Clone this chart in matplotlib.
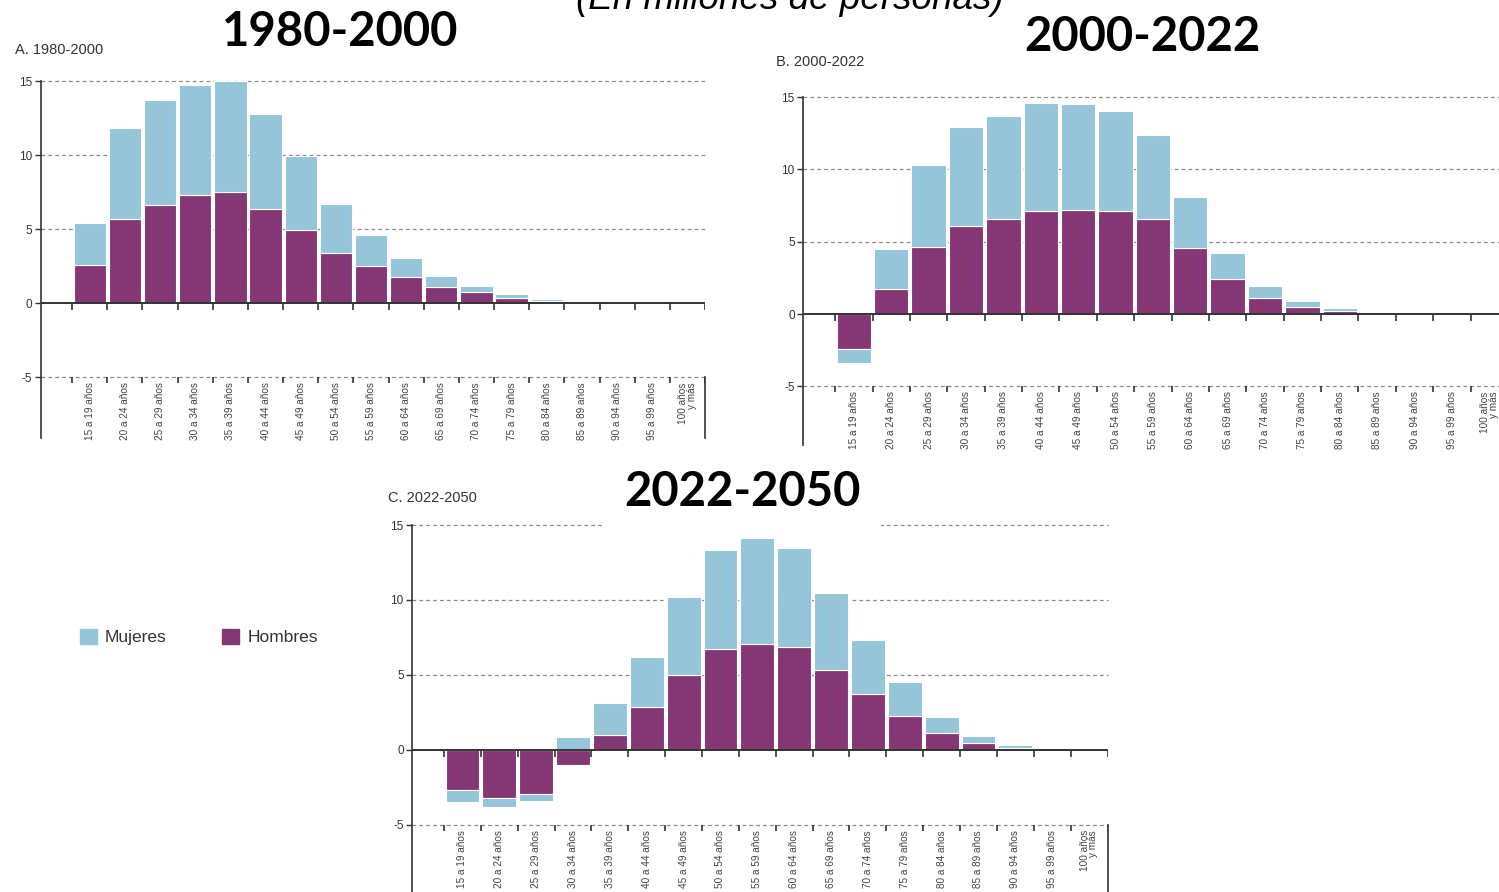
import matplotlib
matplotlib.use('Agg')
import matplotlib.pyplot as plt
from matplotlib.patches import Patch
import numpy as np

W, H = 1499, 892
MORADO = '#853775'
CELESTE = '#96c4d8'
GRIS = '#333333'
NARROW = ['Liberation Sans Narrow', 'Liberation Sans', 'DejaVu Sans']
ARIAL = ['Liberation Sans', 'DejaVu Sans']
plt.rcParams['axes.unicode_minus'] = False

edades = ['15 a 19 años', '20 a 24 años', '25 a 29 años', '30 a 34 años', '35 a 39 años',
          '40 a 44 años', '45 a 49 años', '50 a 54 años', '55 a 59 años', '60 a 64 años',
          '65 a 69 años', '70 a 74 años', '75 a 79 años', '80 a 84 años', '85 a 89 años',
          '90 a 94 años', '95 a 99 años', '100 años\ny más']

# variación de la población por sexo (millones de personas)
hombres_a = [2.6, 5.7, 6.65, 7.3, 7.5, 6.35, 4.95, 3.4, 2.5, 1.8, 1.1, 0.75, 0.35, 0.15, 0.05, 0.02, 0.01, 0.005]
mujeres_a = [2.8, 6.1, 7.05, 7.4, 7.5, 6.45, 5.0, 3.3, 2.1, 1.25, 0.75, 0.4, 0.25, 0.1, 0.05, 0.02, 0.01, 0.005]

hombres_b = [-2.4, 1.7, 4.6, 6.1, 6.6, 7.15, 7.2, 7.15, 6.6, 4.55, 2.4, 1.1, 0.5, 0.2, 0.05, 0.02, 0.01, 0.01]
mujeres_b = [-1.0, 2.8, 5.7, 6.8, 7.1, 7.45, 7.35, 6.9, 5.75, 3.55, 1.85, 0.85, 0.4, 0.2, 0.1, 0.03, 0.02, 0.01]

hombres_c = [-2.7, -3.2, -2.95, -1.0, 1.0, 2.85, 5.0, 6.7, 7.05, 6.85, 5.35, 3.75, 2.25, 1.1, 0.45, 0.15, 0.03, 0.02]
mujeres_c = [-0.8, -0.6, -0.45, 0.85, 2.15, 3.35, 5.2, 6.6, 7.05, 6.6, 5.1, 3.6, 2.25, 1.1, 0.45, 0.15, 0.07, 0.03]

fig = plt.figure(figsize=(W / 100, H / 100), dpi=100)


def panel(rect_px, xleft, ybottom, hombres, mujeres):
    x0, y0, x1, y1 = rect_px
    ax = fig.add_axes([x0 / W, 1 - y1 / H, (x1 - x0) / W, (y1 - y0) / H])
    x = np.arange(len(edades))
    h = np.array(hombres)
    m = np.array(mujeres)
    # mujeres se apilan sobre hombres solo si tienen el mismo signo
    base = np.where(np.sign(h) == np.sign(m), h, 0)
    ax.bar(x, h, width=0.92, color=MORADO, edgecolor='white', linewidth=0.8, zorder=2)
    ax.bar(x, m, bottom=base, width=0.92, color=CELESTE, edgecolor='white', linewidth=0.8, zorder=2)

    xr = len(edades) - 0.5
    ax.set_xlim(xleft, xr)
    ax.set_ylim(ybottom, 15)
    for yv in [15, 10, 5, -5]:
        ax.plot([xleft, xr], [yv, yv], color='#8a8a8a', lw=0.9, dashes=(3, 2.5), zorder=1, clip_on=False)
    ax.axhline(0, color=GRIS, lw=1.4, zorder=3)

    bordes = np.arange(-0.5, len(edades), 1)
    ax.vlines(bordes, -0.45, 0, color=GRIS, lw=1.2, zorder=3)
    ax.vlines(bordes, -5.4, -5, color=GRIS, lw=1.2, zorder=3)
    ax.plot([xr, xr], [-5, ybottom], color=GRIS, lw=1.2, clip_on=False)

    for xi, lab in zip(x, edades):
        ax.text(xi, -5.35, lab, rotation=90, ha='center', va='top', multialignment='right',
                fontsize=7.2, color='#444444', family=ARIAL, linespacing=0.85)

    for s in ['top', 'right', 'bottom']:
        ax.spines[s].set_visible(False)
    ax.spines['left'].set_color(GRIS)
    ax.spines['left'].set_linewidth(1.2)
    ax.set_xticks([])
    ax.set_yticks([-5, 0, 5, 10, 15])
    ax.tick_params(axis='y', length=4, width=1, color=GRIS, labelsize=8.5, labelcolor=GRIS, pad=2)
    for t in ax.get_yticklabels():
        t.set_family(NARROW)
    ax.patch.set_alpha(0)
    return ax


panel((40.5, 81, 705, 438), -1.4, -9.1, hombres_a, mujeres_a)
panel((803, 97, 1508, 445), -1.36, -9.05, hombres_b, mujeres_b)
panel((412, 525, 1107.5, 892), -1.37, -9.47, hombres_c, mujeres_c)

# subtítulos pequeños
for txt, xp, yp in [('A. 1980-2000', 15, 50), ('B. 2000-2022', 776, 62), ('C. 2022-2050', 388, 498)]:
    fig.text(xp / W, 1 - yp / H, txt, ha='left', va='center', fontsize=10.5, color=GRIS, family=NARROW)

# títulos grandes
for txt, xp, yp, caja in [('1980-2000', 340, 32, False), ('2000-2022', 1142, 37, False),
                          ('2022-2050', 742, 492, True)]:
    kw = {}
    if caja:
        kw['bbox'] = dict(boxstyle='square,pad=0.45', fc='white', ec='none')
    fig.text(xp / W, 1 - yp / H, txt, ha='center', va='center', fontsize=34, fontweight='bold',
             color='black', family=['Lato', 'DejaVu Sans'], **kw)

# texto superior, cortado por el borde como en el original
fig.text(790 / W, 1 - 9 / H, '(En millones de personas)', ha='center', va='baseline', fontsize=26.5,
         style='italic', color='black', family=ARIAL)

handles = [Patch(color=CELESTE), Patch(color=MORADO)]
fig.legend(handles, ['Mujeres', 'Hombres'], loc='center left', bbox_to_anchor=(64 / W, 1 - 637 / H),
           ncol=2, frameon=False, handlelength=1.0, handleheight=1.0, handletextpad=0.45,
           columnspacing=3.2, prop={'family': ARIAL, 'size': 12.5},
           labelcolor=GRIS)

fig.savefig('out.png', dpi=100)
